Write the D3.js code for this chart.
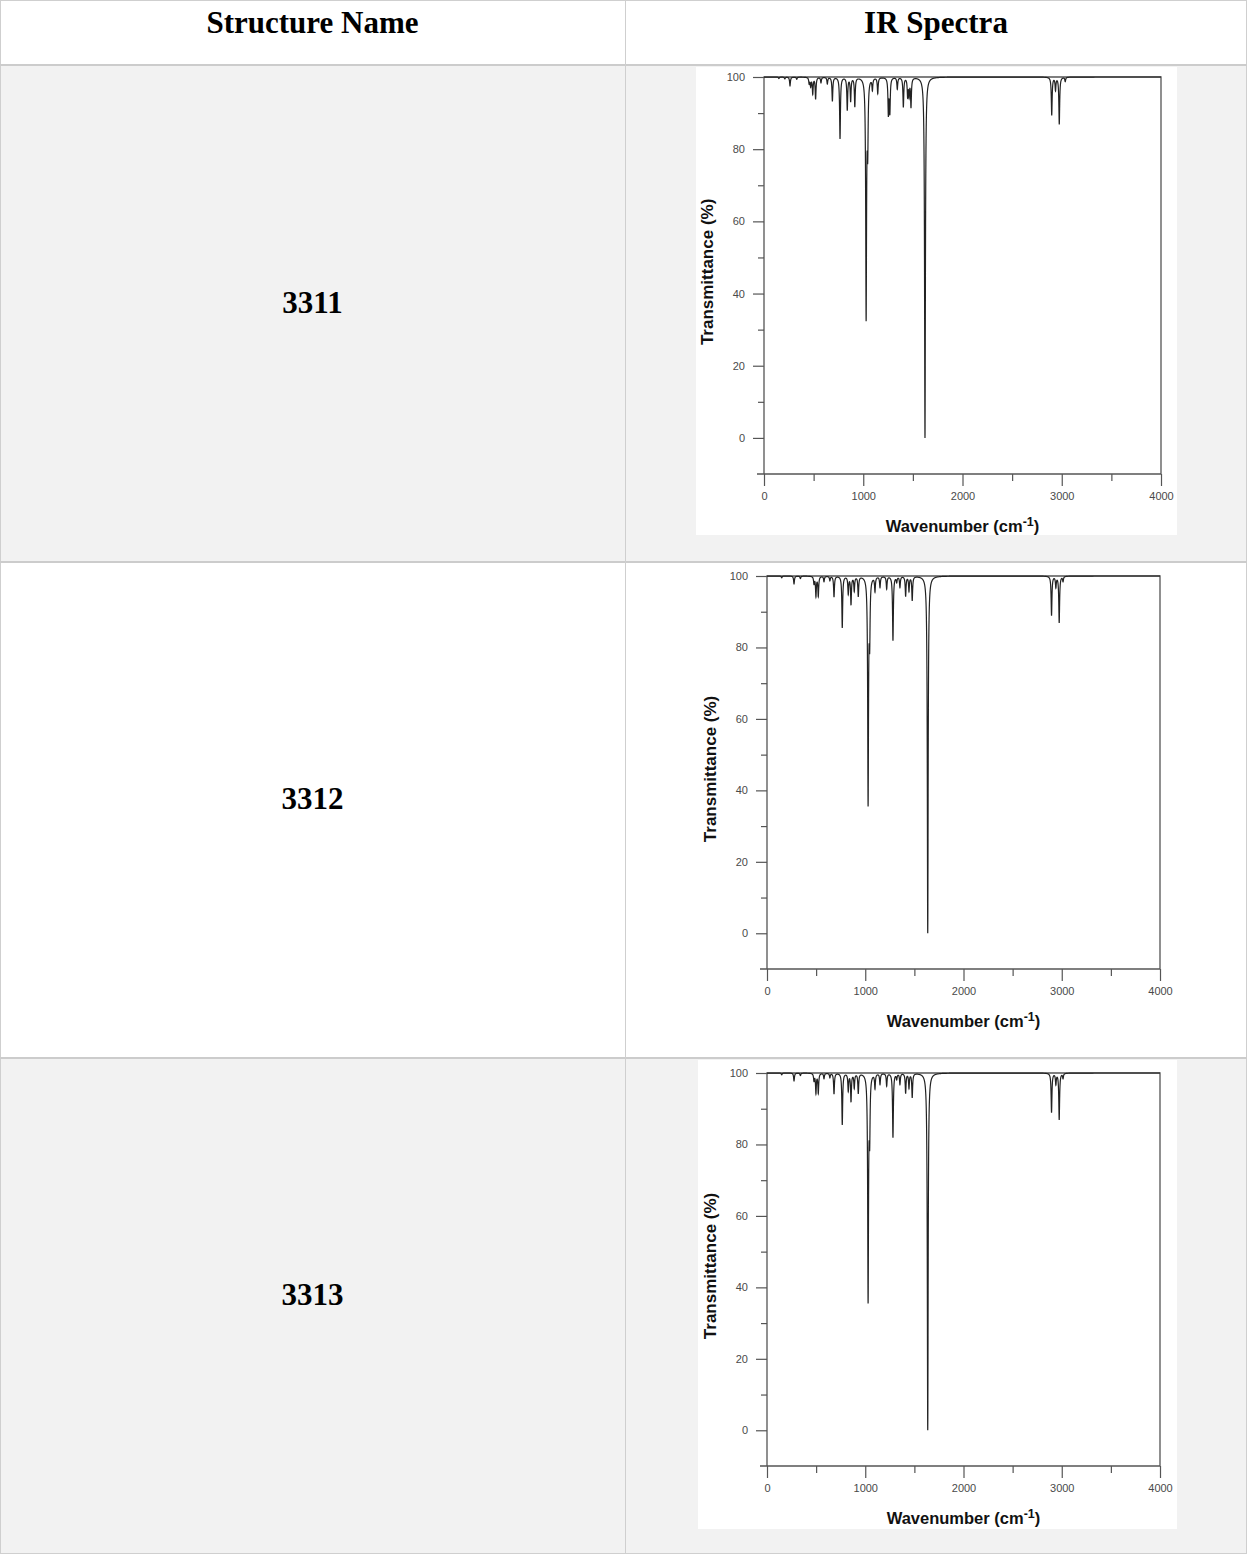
<!DOCTYPE html>
<html>
<head>
<meta charset="utf-8">
<script src="https://cdn.jsdelivr.net/npm/d3@7"></script>
<style>
  body { margin: 0; background: #fff; }
  svg { display: block; }
</style>
</head>
<body>
<div id="chart"></div>
<script>
var headers = ['Structure Name', 'IR Spectra'];
var structures = ['3311', '3312', '3313'];
var wavenumber_ticks = [0, 1000, 2000, 3000, 4000];
var wavenumber_minor = [500, 1500, 2500, 3500];
var transmittance_ticks = [0, 20, 40, 60, 80, 100];
var transmittance_minor = [10, 30, 50, 70, 90];

// bands: [wavenumber, transmittance at band minimum]
var peaks_3311 = [
    [150, 99.6], [210, 99.5], [262, 97.6], [330, 99.4], [455, 98.3], [470, 97.6],
    [491, 95.5], [520, 94], [574, 98.5], [638, 98.2], [689, 93.4], [766, 83],
    [839, 91], [873, 93.5], [915, 92], [1029, 34], [1045, 82], [1092, 96.8],
    [1146, 95.6], [1253, 90], [1268, 90.5], [1343, 96.8], [1404, 91.8],
    [1447, 95], [1462, 95.2], [1481, 92], [1622, 0], [2899, 89.5], [2937, 96.5],
    [2975, 87], [3035, 98.8]
];
var peaks_3312 = [
    [150, 99.5], [275, 97.8], [340, 99.3], [478, 98], [498, 94.5], [522, 94.5],
    [580, 98.5], [640, 98.8], [682, 94.2], [766, 85.6], [827, 95.2], [855, 92.2],
    [888, 96], [929, 94.5], [1029, 37], [1045, 84], [1099, 96], [1150, 97],
    [1218, 96.5], [1282, 82], [1320, 98.5], [1353, 97], [1411, 94.5], [1445, 96],
    [1478, 93.3], [1636, 0], [2896, 89], [2940, 97], [2974, 87], [3013, 98.6]
];
var peaks_3313 = [
    [150, 99.5], [275, 97.8], [340, 99.3], [478, 98], [498, 94.5], [522, 94.5],
    [580, 98.5], [640, 98.8], [682, 94.2], [766, 85.6], [827, 95.2], [855, 92.2],
    [888, 96], [929, 94.5], [1029, 37], [1045, 84], [1099, 96], [1150, 97],
    [1218, 96.5], [1282, 82], [1320, 98.5], [1353, 97], [1411, 94.5], [1445, 96],
    [1478, 93.3], [1636, 0], [2896, 89], [2940, 97], [2974, 87], [3013, 98.6]
];
var spectra = [peaks_3311, peaks_3312, peaks_3313];

var chart_width = 1247;
var chart_height = 1554;
var band_hwhm = 5;

// table geometry
var row_lines = [65, 562, 1058, 1554];
var col_x = 625;

// where each spectrum figure sits in its cell
var panels = [
    { box: [696, 67, 1177, 535], x: [764, 1161], y: [474, 77] },
    { box: [698, 565, 1177, 1030], x: [767, 1160], y: [969, 576] },
    { box: [698, 1060, 1177, 1529], x: [767, 1160], y: [1466, 1073] }
];

var svg = d3.select('#chart')
    .append('svg')
    .attr('width', chart_width)
    .attr('height', chart_height);

// Table rows
svg.append('rect')
    .attr('x', 0).attr('y', 0)
    .attr('width', chart_width).attr('height', row_lines[0])
    .attr('fill', '#fff');

structures.forEach(function (s, i) {
    svg.append('rect')
        .attr('x', 0)
        .attr('y', row_lines[i])
        .attr('width', chart_width)
        .attr('height', row_lines[i + 1] - row_lines[i])
        .attr('fill', i % 2 === 0 ? '#f2f2f2' : '#ffffff');
});

// borders
svg.append('rect')
    .attr('x', 0.5).attr('y', 0.5)
    .attr('width', chart_width - 1).attr('height', chart_height - 1)
    .attr('fill', 'none')
    .attr('stroke', '#cfcfcf');

svg.selectAll('line.row')
    .data(row_lines.slice(0, 3))
    .enter()
    .append('line')
    .attr('class', 'row')
    .attr('x1', 0).attr('x2', chart_width)
    .attr('y1', function (d) { return d; })
    .attr('y2', function (d) { return d; })
    .attr('stroke', '#cccccc')
    .attr('stroke-width', 2);

svg.append('line')
    .attr('x1', col_x + 0.5).attr('x2', col_x + 0.5)
    .attr('y1', 0).attr('y2', chart_height)
    .attr('stroke', '#cfcfcf');

// Header text
svg.selectAll('text.header')
    .data(headers)
    .enter()
    .append('text')
    .attr('class', 'header')
    .attr('x', function (d, i) { return i === 0 ? col_x / 2 : (col_x + chart_width) / 2; })
    .attr('y', 33)
    .attr('text-anchor', 'middle')
    .style('font-family', '"Liberation Serif", "Times New Roman", serif')
    .style('font-weight', 'bold')
    .style('font-size', '31px')
    .text(function (d) { return d; });

// Structure labels
svg.selectAll('text.label')
    .data(structures)
    .enter()
    .append('text')
    .attr('class', 'label')
    .attr('x', col_x / 2)
    .attr('y', function (d, i) { return (row_lines[i] + row_lines[i + 1]) / 2 - 1; })
    .attr('text-anchor', 'middle')
    .style('font-family', '"Liberation Serif", "Times New Roman", serif')
    .style('font-weight', 'bold')
    .style('font-size', '31px')
    .text(function (d) { return d; });

// Spectrum curve: sum of lorentzian bands
function transmittance(peaks, v) {
    var a = 0;
    peaks.forEach(function (p) {
        var dx = v - p[0];
        a += (100 - p[1]) * band_hwhm * band_hwhm / (dx * dx + band_hwhm * band_hwhm);
    });
    return Math.max(100 - a, 0);
}

var sample_points = d3.range(0, 4000.5, 0.5);

panels.forEach(function (p, i) {
    var g = svg.append('g');
    var axis_font = '"Liberation Sans", Arial, sans-serif';

    g.append('rect')
        .attr('x', p.box[0]).attr('y', p.box[1])
        .attr('width', p.box[2] - p.box[0])
        .attr('height', p.box[3] - p.box[1])
        .attr('fill', '#fff');

    var x_scale = d3.scaleLinear().domain([0, 4000]).range(p.x);
    var y_scale = d3.scaleLinear().domain([-10, 100]).range(p.y);

    // axes
    var x_axis = d3.axisBottom(x_scale)
        .tickValues(wavenumber_ticks)
        .tickFormat(d3.format('d'))
        .tickSize(12)
        .tickPadding(6)
        .tickSizeOuter(0);
    var x_minor = d3.axisBottom(x_scale)
        .tickValues(wavenumber_minor)
        .tickSize(7)
        .tickFormat('')
        .tickSizeOuter(0);
    var y_axis = d3.axisLeft(y_scale)
        .tickValues(transmittance_ticks)
        .tickFormat(d3.format('d'))
        .tickSize(11)
        .tickPadding(8)
        .tickSizeOuter(0);
    var y_minor = d3.axisLeft(y_scale)
        .tickValues(transmittance_minor)
        .tickSize(6)
        .tickFormat('')
        .tickSizeOuter(0);

    [x_axis, x_minor].forEach(function (ax) {
        g.append('g')
            .attr('transform', 'translate(0,' + y_scale(-10) + ')')
            .call(ax);
    });
    [y_axis, y_minor].forEach(function (ax) {
        g.append('g')
            .attr('transform', 'translate(' + x_scale(0) + ',0)')
            .call(ax);
    });

    g.selectAll('.domain').remove();
    g.selectAll('.tick line').attr('stroke', '#555').attr('stroke-width', 1.2);
    g.selectAll('.tick text')
        .style('fill', '#4a4a4a')
        .style('font-family', axis_font)
        .style('font-size', '11px');

    // frame
    g.append('path')
        .attr('d', 'M' + (x_scale(0) - 7) + ',' + y_scale(-10) +
            'H' + x_scale(4000) + 'V' + y_scale(100) + 'H' + x_scale(0) + 'V' + y_scale(-10))
        .attr('fill', 'none')
        .attr('stroke', '#555')
        .attr('stroke-width', 1.3);

    // spectrum
    var line = d3.line()
        .x(function (v) { return x_scale(v); })
        .y(function (v) { return y_scale(transmittance(spectra[i], v)); });

    g.append('path')
        .datum(sample_points)
        .attr('d', line)
        .attr('fill', 'none')
        .attr('stroke', '#222')
        .attr('stroke-width', 1.2);

    // axis titles
    var xt = g.append('text')
        .attr('x', (p.x[0] + p.x[1]) / 2)
        .attr('y', y_scale(-10) + 58)
        .attr('text-anchor', 'middle')
        .style('font-family', axis_font)
        .style('font-weight', 'bold')
        .style('font-size', '16.5px')
        .attr('fill', '#111');
    xt.append('tspan').text('Wavenumber (cm');
    xt.append('tspan').attr('dy', -6).style('font-size', '12.5px').text('-1');
    xt.append('tspan').attr('dy', 6).text(')');

    g.append('text')
        .attr('transform', 'translate(' + (p.x[0] - 51) + ',' + y_scale(46) + ') rotate(-90)')
        .attr('text-anchor', 'middle')
        .style('font-family', axis_font)
        .style('font-weight', 'bold')
        .style('font-size', '17px')
        .attr('fill', '#111')
        .text('Transmittance (%)');
});
</script>
</body>
</html>
